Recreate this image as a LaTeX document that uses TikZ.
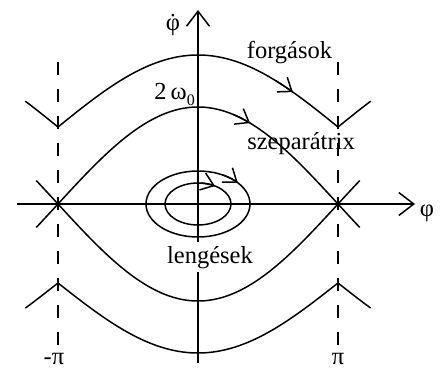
\documentclass[tikz,border=0pt]{standalone}
\usepackage{fontspec}
\setmainfont{Liberation Serif}
\usetikzlibrary{arrows.meta}
\begin{document}
\begin{tikzpicture}[x=1pt,y=-1pt,
  curve/.style={line width=1.5pt},
  axis/.style={line width=1.5pt,-{Straight Barb[length=15pt,width=23pt]}},
  flow/.style={line width=1.5pt,-{Straight Barb[length=12pt,width=18pt]}},
  guide/.style={line width=1.5pt,dash pattern=on 13pt off 14pt},
  lbl/.style={font=\fontsize{24.5}{26}\selectfont,inner sep=0pt}]
\useasboundingbox (0,0) rectangle (440,370);
% dashed guides at -pi and pi
\coordinate (gl1) at (58,62);  \coordinate (gl2) at (58,345);
\coordinate (gr1) at (338,62); \coordinate (gr2) at (338,345);
\draw[guide] (gl1) -- (gl2);
\draw[guide] (gr1) -- (gr2);
% axes
\coordinate (xs) at (17,204);  \coordinate (xe) at (415,204);
\coordinate (ys) at (198,363); \coordinate (ye) at (198,10);
\draw[axis] (xs) -- (xe);
\draw[axis] (ys) -- (ye);
% rotations
\draw[curve] plot[domain=-222:222,samples=149] ({198+\x*7/9},{127-72*abs(cos(\x/2))});
\draw[curve] plot[domain=-222:222,samples=149] ({198+\x*7/9},{283+70*abs(cos(\x/2))});
% separatrix
\draw[curve] plot[domain=-208:208,samples=105] ({198+\x*7/9},{204-97*cos(\x/2)});
\draw[curve] plot[domain=-208:208,samples=105] ({198+\x*7/9},{204+97*cos(\x/2)});
% oscillations
\draw[curve] (198,204) ellipse [x radius=52pt,y radius=33pt];
\draw[curve] (198,204) ellipse [x radius=33pt,y radius=21pt];
% direction arrows
\draw[flow] plot[domain=100:122,samples=12] ({198+\x*7/9},{127-72*abs(cos(\x/2))});
\draw[flow] plot[domain=45:67,samples=12] ({198+\x*7/9},{204-97*cos(\x/2)});
\draw[flow] plot[domain=62:40,samples=12] ({198+52*cos(\x)},{204-33*sin(\x)});
\draw[flow] plot[domain=85:59,samples=12] ({198+33*cos(\x)},{204-21*sin(\x)});
% labels
\node[lbl,anchor=base] (rot) at (289.5,58) {forgások};
\node[lbl,anchor=base] (sep) at (301,149) {szeparátrix};
\node[lbl,anchor=base,fill=white,inner sep=4pt] (osc) at (210,263) {lengések};
\node[lbl,anchor=base east] (w0) at (195,99) {2\,ω\raisebox{-6pt}{\fontsize{16}{16}\selectfont 0}};
\node[lbl] (phidot) at (173,25) {\ooalign{φ\cr\hidewidth˙\hidewidth\cr}};
\node[lbl] (phi) at (427,213) {φ};
\node[lbl,anchor=base] (mpi) at (54,364) {-π};
\node[lbl,anchor=base] (ppi) at (338,364) {π};
\end{tikzpicture}
\end{document}
